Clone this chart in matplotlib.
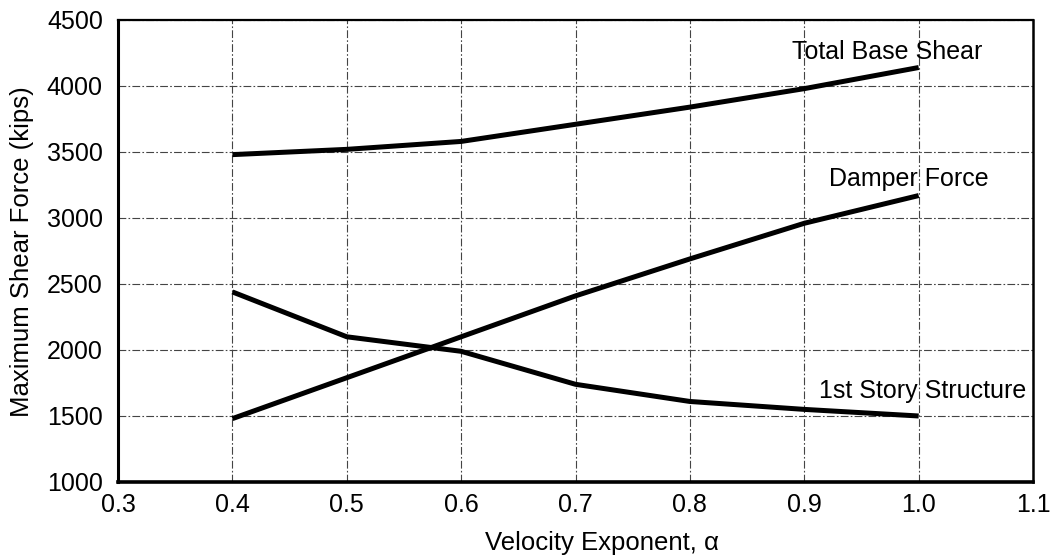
import matplotlib
matplotlib.use("Agg")
import matplotlib.pyplot as plt

alpha = [0.4, 0.5, 0.6, 0.7, 0.8, 0.9, 1.0]
total_base_shear = [3480, 3520, 3580, 3710, 3840, 3980, 4140]
damper_force = [1480, 1790, 2100, 2410, 2690, 2960, 3170]
first_story = [2440, 2100, 1990, 1740, 1610, 1550, 1500]

xticks = [0.3, 0.4, 0.5, 0.6, 0.7, 0.8, 0.9, 1.0, 1.1]
xticklabels = ["0.3", "0.4", "0.5", "0.6", "0.7", "0.8", "0.9", "1.0", "1.1"]
yticks = [1000, 1500, 2000, 2500, 3000, 3500, 4000, 4500]

plt.rcParams['font.family'] = ['Liberation Sans', 'DejaVu Sans']

fig = plt.figure(figsize=(10.52, 5.6), dpi=100)
ax = fig.add_axes([0.1122, 0.1393, 0.8698, 0.825])

for series in (total_base_shear, damper_force, first_story):
    ax.plot(alpha, series, color='black', lw=3.6, solid_capstyle='butt')

ax.set_xlim(0.3, 1.1)
ax.set_ylim(1000, 4500)
ax.set_xticks(xticks)
ax.set_xticklabels(xticklabels)
ax.set_yticks(yticks)
ax.tick_params(length=0, labelsize=18)
ax.tick_params(axis='x', pad=8)
ax.tick_params(axis='y', pad=11)

ax.grid(True, color='#444444', lw=0.8, linestyle=(0, (7, 2, 1.5, 2)))

ax.spines['left'].set_linewidth(2.2)
ax.spines['bottom'].set_linewidth(2.6)
ax.spines['top'].set_linewidth(1.6)
ax.spines['right'].set_linewidth(1.8)

ax.text(1.056, 4260, "Total Base Shear", ha='right', va='center', fontsize=18)
ax.text(1.061, 3295, "Damper Force", ha='right', va='center', fontsize=18)
ax.text(1.094, 1690, "1st Story Structure", ha='right', va='center', fontsize=18)

fig.text(602 / 1052, 1 - 543 / 560, "Velocity Exponent, α", ha='center', va='center', fontsize=18.5)
fig.text(22 / 1052, 1 - 252 / 560, "Maximum Shear Force (kips)", ha='center', va='center',
         rotation=90, fontsize=18.5)

fig.savefig("out.png", dpi=100)
